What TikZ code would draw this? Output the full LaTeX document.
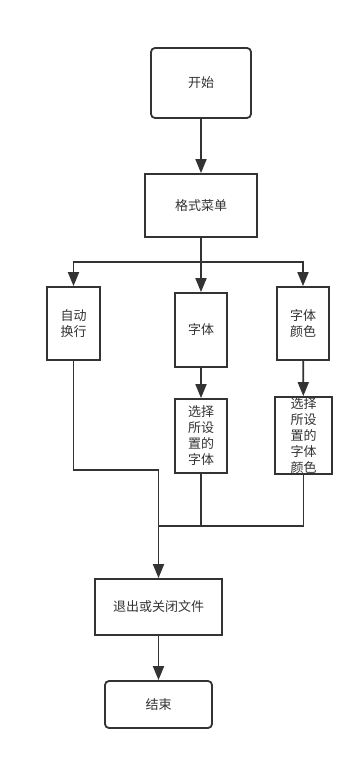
\documentclass[tikz,border=0pt]{standalone}
\usepackage{fontspec}
\newfontfamily\cjk{Noto Sans CJK SC}
\usepackage{tikz}
\usetikzlibrary{arrows.meta}

\begin{document}
\begin{tikzpicture}[x=1pt,y=-1pt,color=black!80,line width=1.8pt,
		box/.style={draw,fill=white,inner sep=0pt,align=center,
			font=\cjk\fontsize{13}{16}\selectfont},
		rbox/.style={box,rounded corners=4pt},
		arr/.style={-{Triangle[length=14pt,width=11pt]}}]
				\useasboundingbox (0,0) rectangle (363,759);
				\node[rbox,minimum width=100pt,minimum height=70pt] (start) at (201,83) {开始};
				\node[box,minimum width=112pt,minimum height=63pt] (menu) at (201,205.5) {格式菜单};
				\node[box,minimum width=53pt,minimum height=73pt] (wrap) at (73.5,323.5) {自动\\换行};
				\node[box,minimum width=52pt,minimum height=74pt] (font) at (201,330) {字体};
				\node[box,minimum width=52pt,minimum height=73pt] (color) at (303,323.5) {字体\\颜色};
				\node[box,minimum width=52pt,minimum height=74pt] (selfont) at (201,436) {选择\\所设\\置的\\字体};
				\node[box,minimum width=57pt,minimum height=77pt] (selcolor) at (303.5,435.5) {选择\\所设\\置的\\字体\\颜色};
				\node[box,minimum width=127pt,minimum height=56pt] (quit) at (158.5,607) {退出或关闭文件};
				\node[rbox,minimum width=107pt,minimum height=47pt] (finish) at (158.5,704.5) {结束};
				\coordinate (b) at (201,262);
				\coordinate (j1) at (158.5,470);
				\coordinate (j2) at (158.5,526);
				\draw[arr] (start) -- (menu);
				\draw[arr] (menu) -- (font);
				\draw[arr] (b) -| (wrap.north);
				\draw[arr] (b) -| (color.north);
				\draw[arr] (font) -- (selfont);
				\draw[arr] (color) -- (selcolor);
				\draw (wrap.south) |- (j1) -- (j2);
				\draw (selfont.south) |- (j2);
				\draw (selcolor.south) |- (selfont.south |- j2);
				\draw[arr] (j2) -- (quit.north);
				\draw[arr] (quit) -- (finish);
			\end{tikzpicture}
\end{document}
